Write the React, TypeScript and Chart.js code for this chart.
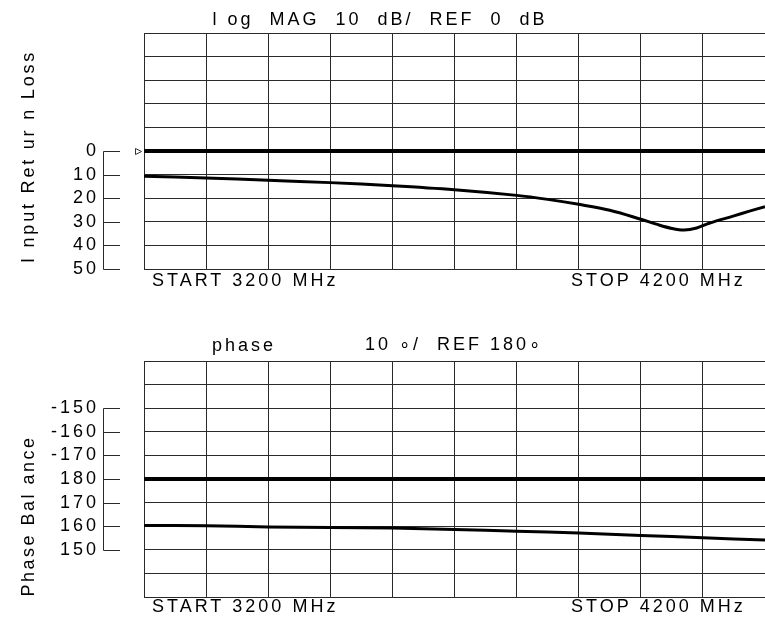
import React, { useEffect, useRef } from 'react';
import { Chart, registerables } from 'chart.js';

Chart.register(...registerables);

// ---------- data ----------
const F_START = 3200;
const F_STOP = 4200;
const F_STEP = 100;

const RL_FREQ = [3200, 3300, 3400, 3500, 3600, 3700, 3800, 3850, 3900, 3950, 4000, 4025, 4050, 4070, 4090, 4110, 4150, 4175, 4200];
const RL_VALUES = [10.7, 11.4, 12.4, 13.4, 14.7, 16.4, 18.8, 20.5, 22.6, 25.1, 28.9, 31.0, 32.8, 33.5, 32.6, 30.6, 27.5, 25.5, 23.6];
const RL_REF = 0;
const RL_MIN = -50;
const RL_MAX = 50;
const RL_TICK_VALUES = [0, 10, 20, 30, 40, 50];
const RL_TICK_LABELS = ['0', '10', '20', '30', '40', '50'];

const PH_FREQ = [3200, 3300, 3400, 3500, 3600, 3700, 3800, 3900, 4000, 4100, 4200];
const PH_VALUES = [160.3, 160.2, 159.7, 159.5, 159.2, 158.6, 157.9, 157.1, 156.1, 155.1, 154.1];
const PH_REF = 180;
const PH_MIN = 130;
const PH_MAX = 230;
const PH_TICK_VALUES = [210, 200, 190, 180, 170, 160, 150];
const PH_TICK_LABELS = ['-150', '-160', '-170', '180', '170', '160', '150'];

const DIV = 10;

const TOP_TITLE = 'l og  MAG  10  dB/  REF  0  dB';
const PH_TITLE_A = 'phase';
const PH_TITLE_B = '10 \u2218/  REF 180\u2218';
const RL_AXIS = 'I nput Ret ur n Loss';
const PH_AXIS = 'Phase Bal ance';
const START_LABEL = `START ${F_START} MHz`;
const STOP_LABEL = `STOP ${F_STOP} MHz`;

// ---------- styling ----------
const FONT = "'Liberation Sans', Arial, sans-serif";
const FS = 18;
const GRID = '#2a2a2a';

type TextItem = { text: string; x: number; y: number; rotate?: boolean; align?: CanvasTextAlign; spacing?: number };

function makePlugin(opts: {
  tickValues: number[];
  marker?: number;
  texts: TextItem[];
}) {
  return {
    id: 'analyzerDecor',
    beforeDraw(chart: any) {
      (chart.ctx as any).letterSpacing = '3px';
    },
    afterDraw(chart: any) {
      const ctx: CanvasRenderingContext2D = chart.ctx;
      const ys = chart.scales.y;
      const left = chart.chartArea.left;
      const bx = left - 40.5;
      const bx2 = left - 24;
      ctx.save();
      ctx.strokeStyle = GRID;
      ctx.lineWidth = 1;
      ctx.beginPath();
      const pix = opts.tickValues.map((v) => Math.round(ys.getPixelForValue(v)) + 0.5);
      ctx.moveTo(bx, Math.min(...pix));
      ctx.lineTo(bx, Math.max(...pix));
      pix.forEach((p) => {
        ctx.moveTo(bx, p);
        ctx.lineTo(bx2, p);
      });
      ctx.stroke();
      if (opts.marker !== undefined) {
        const my = Math.round(ys.getPixelForValue(opts.marker)) + 0.5;
        ctx.beginPath();
        ctx.moveTo(left - 8.5, my - 3);
        ctx.lineTo(left - 2.5, my);
        ctx.lineTo(left - 8.5, my + 3);
        ctx.closePath();
        ctx.fillStyle = '#fff';
        ctx.fill();
        ctx.strokeStyle = '#333';
        ctx.stroke();
      }
      ctx.restore();

      opts.texts.forEach((t) => {
        ctx.save();
        (ctx as any).letterSpacing = `${t.spacing ?? 3}px`;
        ctx.font = `${FS}px ${FONT}`;
        ctx.fillStyle = '#000';
        ctx.textBaseline = 'alphabetic';
        ctx.textAlign = t.align ?? 'left';
        if (t.rotate) {
          ctx.translate(t.x, t.y);
          ctx.rotate(-Math.PI / 2);
          ctx.fillText(t.text, 0, 0);
        } else {
          ctx.fillText(t.text, t.x, t.y);
        }
        ctx.restore();
      });
      (ctx as any).letterSpacing = '0px';
    },
  };
}

function buildConfig(p: {
  freq: number[];
  values: number[];
  ref: number;
  min: number;
  max: number;
  reverse: boolean;
  tickValues: number[];
  tickLabels: string[];
  padTop: number;
  xHeight: number;
  plugin: any;
}): any {
  const step = (p.max - p.min) / DIV;
  return {
    type: 'line',
    data: {
      datasets: [
        {
          data: [
            { x: F_START, y: p.ref },
            { x: F_STOP, y: p.ref },
          ],
          borderColor: '#000',
          borderWidth: 4,
          pointRadius: 0,
          tension: 0,
        },
        {
          data: p.freq.map((f, i) => ({ x: f, y: p.values[i] })),
          borderColor: '#000',
          borderWidth: 3,
          pointRadius: 0,
          tension: 0.35,
        },
      ],
    },
    options: {
      animation: false,
      responsive: false,
      maintainAspectRatio: false,
      layout: { padding: { top: p.padTop, left: 0, right: 0, bottom: 0 } },
      plugins: { legend: { display: false }, tooltip: { enabled: false }, title: { display: false } },
      scales: {
        x: {
          type: 'linear',
          min: F_START,
          max: F_STOP,
          ticks: { stepSize: F_STEP, display: false },
          grid: { color: GRID, lineWidth: 1, drawTicks: false },
          border: { color: GRID, width: 1 },
          afterFit: (s: any) => {
            s.height = p.xHeight;
            s.paddingLeft = 0;
            s.paddingRight = 0;
          },
        },
        y: {
          type: 'linear',
          min: p.min,
          max: p.max,
          reverse: p.reverse,
          ticks: {
            stepSize: step,
            autoSkip: false,
            padding: 45,
            color: '#000',
            font: { family: FONT, size: FS },
            callback: (v: number) => {
              const i = p.tickValues.indexOf(Math.round(v));
              return i >= 0 ? p.tickLabels[i] : '';
            },
          },
          grid: { color: GRID, lineWidth: 1, drawTicks: false },
          border: { color: GRID, width: 1 },
          afterFit: (s: any) => {
            s.width = 144;
            s.paddingTop = 0;
            s.paddingBottom = 0;
          },
        },
      },
    },
    plugins: [p.plugin],
  };
}

const TOP_H = 311;
const BOT_H = 312;

export default function App() {
  const topRef = useRef<HTMLCanvasElement>(null);
  const botRef = useRef<HTMLCanvasElement>(null);

  useEffect(() => {
    const topPlugin = makePlugin({
      tickValues: RL_TICK_VALUES,
      marker: RL_REF,
      texts: [
        { text: TOP_TITLE, x: 212.5, y: 25 },
        { text: START_LABEL, x: 152, y: 286 },
        { text: STOP_LABEL, x: 571, y: 286 },
        { text: RL_AXIS, x: 33.5, y: 156.5, rotate: true, align: 'center', spacing: 2.8 },
      ],
    });
    const botPlugin = makePlugin({
      tickValues: PH_TICK_VALUES,
      texts: [
        { text: PH_TITLE_A, x: 212, y: 39.5 },
        { text: PH_TITLE_B, x: 365, y: 38.5 },
        { text: START_LABEL, x: 152, y: 301 },
        { text: STOP_LABEL, x: 571, y: 301 },
        { text: PH_AXIS, x: 33.5, y: 205, rotate: true, align: 'center', spacing: 2.5 },
      ],
    });

    const top = new Chart(
      topRef.current as HTMLCanvasElement,
      buildConfig({
        freq: RL_FREQ,
        values: RL_VALUES,
        ref: RL_REF,
        min: RL_MIN,
        max: RL_MAX,
        reverse: true,
        tickValues: RL_TICK_VALUES,
        tickLabels: RL_TICK_LABELS,
        padTop: 33,
        xHeight: 42,
        plugin: topPlugin,
      })
    );
    const bot = new Chart(
      botRef.current as HTMLCanvasElement,
      buildConfig({
        freq: PH_FREQ,
        values: PH_VALUES,
        ref: PH_REF,
        min: PH_MIN,
        max: PH_MAX,
        reverse: false,
        tickValues: PH_TICK_VALUES,
        tickLabels: PH_TICK_LABELS,
        padTop: 50,
        xHeight: 26,
        plugin: botPlugin,
      })
    );
    return () => {
      top.destroy();
      bot.destroy();
    };
  }, []);

  return (
    <div style={{ position: 'absolute', left: 0, top: 0, width: 765, height: 623, background: '#fff' }}>
      <canvas ref={topRef} width={765} height={TOP_H} style={{ display: 'block', position: 'absolute', left: 0, top: 0 }} />
      <canvas ref={botRef} width={765} height={BOT_H} style={{ display: 'block', position: 'absolute', left: 0, top: TOP_H }} />
    </div>
  );
}
